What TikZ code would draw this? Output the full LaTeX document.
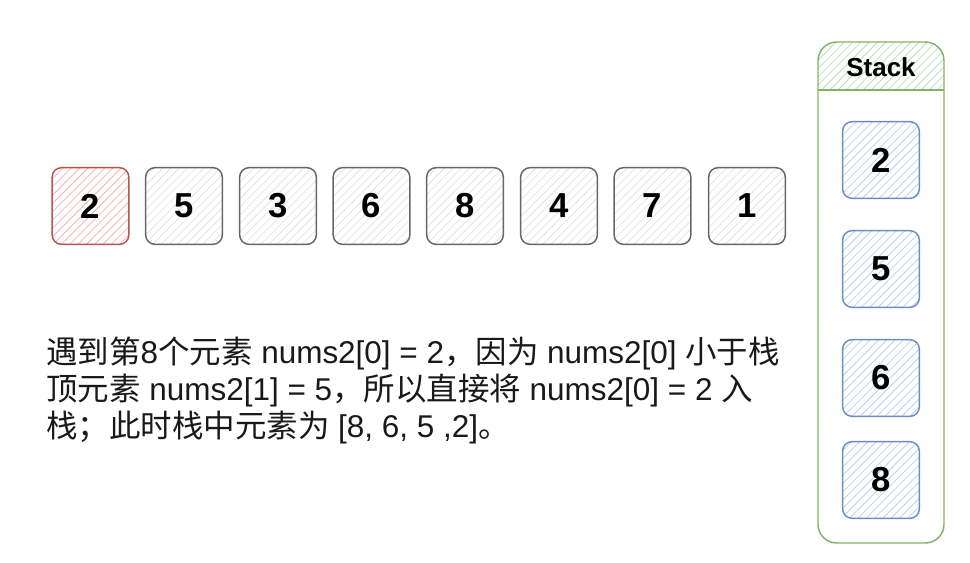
\documentclass[tikz,border=0pt]{standalone}
\usepackage{fontspec}
\setmainfont{Liberation Sans}
\newfontfamily\cjk{Noto Sans CJK SC}
\usetikzlibrary{patterns.meta}
\definecolor{redline}{HTML}{B85450}
\definecolor{redhatch}{HTML}{F3B3B1}
\definecolor{grayline}{HTML}{666666}
\definecolor{grayhatch}{HTML}{E4E4E4}
\definecolor{blueline}{HTML}{6C8EBF}
\definecolor{bluehatch}{HTML}{BACFEE}
\definecolor{greenline}{HTML}{82B366}
\definecolor{greenhatch}{HTML}{BFDDB5}
\tikzset{
  hatch/.style={pattern={Lines[angle=45,distance=4.4pt,line width=0.6pt]},pattern color=#1},
  numbox/.style={rounded corners=7pt, minimum width=57.5pt, minimum height=57.5pt,
    line width=1.1pt, inner sep=0pt, font=\fontsize{26}{30}\selectfont\bfseries},
  redbox/.style={numbox, draw=redline, hatch=redhatch},
  graybox/.style={numbox, draw=grayline, hatch=grayhatch},
  bluebox/.style={numbox, draw=blueline, hatch=bluehatch},
  stackbox/.style={draw=greenline, line width=1.1pt, rounded corners=14pt,
    minimum width=94.5pt, minimum height=375.75pt, inner sep=0pt},
}
\begin{document}
\begin{tikzpicture}[x=0.75pt,y=-0.75pt]
\useasboundingbox (0,0) rectangle (970,563);
% array
\node[redbox]  (a1) at (90.5,206) {2};
\node[graybox] (a2) at (184,206) {5};
\node[graybox] (a3) at (278,206) {3};
\node[graybox] (a4) at (371.5,206) {6};
\node[graybox] (a5) at (465,206) {8};
\node[graybox] (a6) at (559,206) {4};
\node[graybox] (a7) at (652.5,206) {7};
\node[graybox] (a8) at (747,206) {1};
% stack
\begin{scope}
\clip[rounded corners=14pt] (818,42) rectangle (944,543);
\fill[hatch=greenhatch] (818,42) rectangle (944,90);
\end{scope}
\node[stackbox] (stack) at (881,292.5) {};
\draw[greenline, line width=1.1pt] (818,90) -- (944,90);
\node[font=\fontsize{19.5}{24}\selectfont\bfseries] (title) at (881,67) {Stack};
\node[bluebox] (s1) at (881,160) {2};
\node[bluebox] (s2) at (881,269) {5};
\node[bluebox] (s3) at (881,378) {6};
\node[bluebox] (s4) at (881,480) {8};
% description
\node[anchor=north west, inner sep=0pt, align=left, text=black!90,
  font=\fontsize{23.6}{27.75}\selectfont] (desc) at (46,337)
{{\cjk 遇到第}8{\cjk 个元素} nums2[0] = 2{\cjk ，因为} nums2[0] {\cjk 小于栈}\\
 {\cjk 顶元素} nums2[1] = 5{\cjk ，所以直接将} nums2[0] = 2 {\cjk 入}\\
 {\cjk 栈；此时栈中元素为} [8, 6, 5 ,2]{\cjk 。}};
\end{tikzpicture}
\end{document}
